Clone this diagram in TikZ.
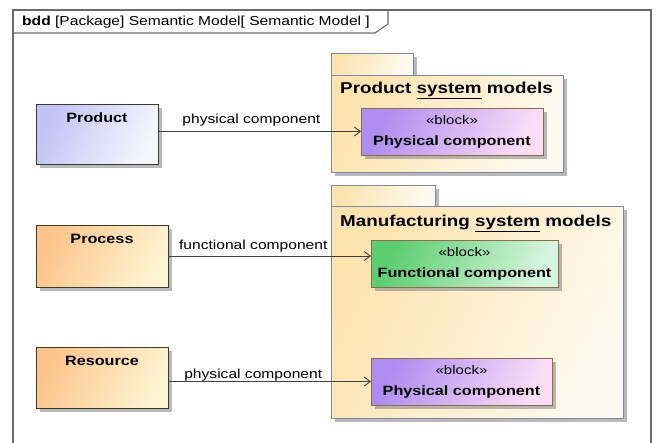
\documentclass[tikz,border=0pt]{standalone}
\usepackage{fontspec}
\setmainfont{Liberation Sans}[FakeStretch=1.2]
\usetikzlibrary{arrows.meta,shadows}
\definecolor{framecol}{HTML}{6A6A6A}
\definecolor{clsborder}{HTML}{3A3A2A}
\definecolor{blkborder}{HTML}{8C6C50}
\definecolor{pkgborder}{HTML}{8088A8}
\definecolor{prodL}{HTML}{C2C2F6}
\definecolor{prodR}{HTML}{F6F6FF}
\definecolor{procL}{HTML}{FCC48A}
\definecolor{procR}{HTML}{FFF4D2}
\definecolor{pkgL}{HTML}{FDE3AE}
\definecolor{pkgR}{HTML}{FFFAF0}
\definecolor{physL}{HTML}{AE8CF0}
\definecolor{physR}{HTML}{FCDDF7}
\definecolor{funcL}{HTML}{5CCD70}
\definecolor{funcR}{HTML}{D6F5DE}
\definecolor{linecol}{HTML}{404040}
\tikzset{
  box/.style={inner sep=0pt, outer sep=0pt, anchor=north west,
    drop shadow={shadow xshift=4pt, shadow yshift=-4pt, fill=black!50, opacity=0.55}},
  grad/.style 2 args={left color=#1, right color=#2, shading angle=65},
  classbox/.style={box, draw=clsborder, line width=1pt},
  blockbox/.style={box, draw=blkborder, line width=1pt, align=center,
    font=\fontsize{12.5}{21}\selectfont},
  pkgbox/.style={box, draw=pkgborder, line width=1pt, grad={pkgL}{pkgR}},
  clstext/.style={anchor=center, yshift=-14pt, inner sep=0pt, font=\fontsize{13.5}{16}\selectfont\bfseries},
  pkgtitle/.style={anchor=west, inner sep=0pt, font=\fontsize{15.7}{18}\selectfont\bfseries},
  assoc/.style={draw=linecol, line width=0.9pt, -{Straight Barb[length=6pt,width=9pt]}},
  elabel/.style={anchor=base, inner sep=0pt, font=\fontsize{13}{15}\selectfont}
}
\begin{document}
\begin{tikzpicture}[x=1pt,y=-1pt]
\useasboundingbox (0,0) rectangle (656,442);
\fill[white] (0,0) rectangle (656,442);
% frame
\draw[framecol, line width=1.1pt] (13,450) -- (13,10) -- (651,10) -- (651,450);
\draw[framecol, line width=1.1pt] (13,33) -- (375,33) -- (388,24) -- (388,10);
\node[anchor=west, inner sep=0pt, font=\fontsize{13}{15}\selectfont] (ftitle) at (22,22)
  {\textbf{bdd} [Package] Semantic Model[ Semantic Model ]};

% packages
\node[pkgbox, minimum width=82pt, minimum height=22pt] (ptab) at (331,53) {};
\node[pkgbox, minimum width=232pt, minimum height=97pt] (ppkg) at (331,75) {};
\node[pkgtitle] (ptitle) at (340,90) {Product \underline{system} models};

\node[pkgbox, minimum width=104pt, minimum height=21pt] (mtab) at (331,185) {};
\node[pkgbox, minimum width=292pt, minimum height=212pt] (mpkg) at (331,206) {};
\node[pkgtitle] (mtitle) at (340,223) {Manufacturing \underline{system} models};

% blocks
\node[blockbox, grad={physL}{physR}, minimum width=182pt, minimum height=47pt] (pc1) at (361,108)
  {«block»\\\fontsize{13.5}{16}\selectfont\bfseries Physical component};
\node[blockbox, grad={funcL}{funcR}, minimum width=187pt, minimum height=47pt] (fc) at (371,240)
  {«block»\\\fontsize{13.5}{16}\selectfont\bfseries Functional component};
\node[blockbox, grad={physL}{physR}, minimum width=181pt, minimum height=47pt] (pc2) at (371,358)
  {«block»\\\fontsize{13.5}{16}\selectfont\bfseries Physical component};

% classes
\node[classbox, grad={prodL}{prodR}, minimum width=122pt, minimum height=60pt,
  label={[clstext]north:Product}] (prod) at (36,104) {};
\node[classbox, grad={procL}{procR}, minimum width=132pt, minimum height=62pt,
  label={[clstext]north:Process}] (proc) at (36,225) {};
\node[classbox, grad={procL}{procR}, minimum width=132pt, minimum height=61pt,
  label={[clstext]north:Resource}] (res) at (36,347) {};

% connectors
\draw[assoc] (pc1.west -| prod.east) -- node[elabel, pos=0.46, yshift=8pt] {physical component} (pc1.west);
\draw[assoc] (proc.east) -- node[elabel, pos=0.42, yshift=7pt] {functional component} (proc.east -| fc.west);
\draw[assoc] (pc2.west -| res.east) -- node[elabel, pos=0.42, yshift=3pt] {physical component} (pc2.west);
\end{tikzpicture}
\end{document}
